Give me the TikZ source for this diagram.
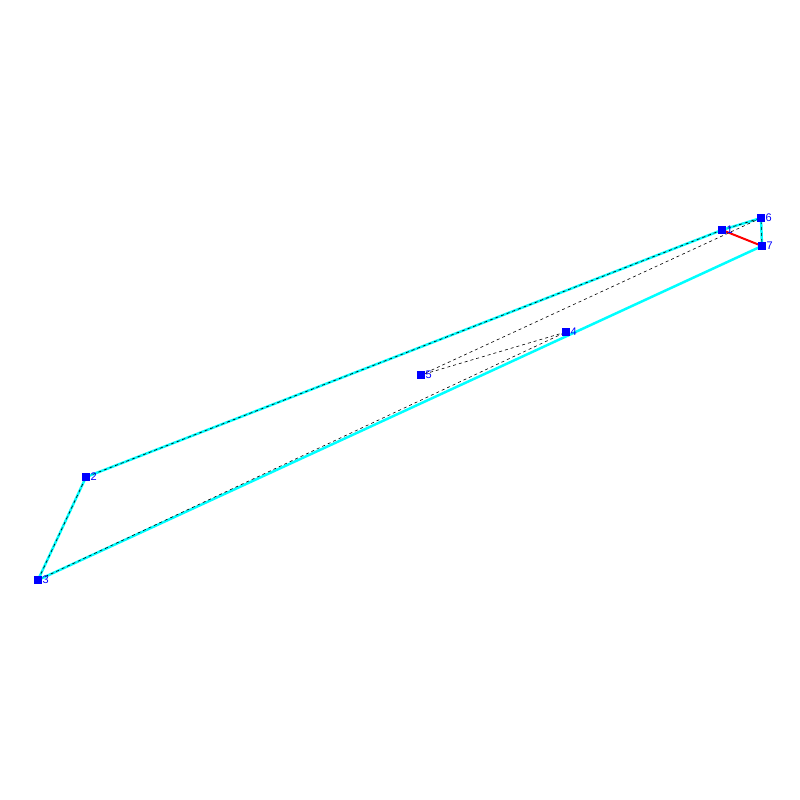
\documentclass[tikz,border=0pt]{standalone}
\usepackage{fontspec}
\setmainfont{Liberation Sans}
\definecolor{pcyan}{RGB}{0,255,255}
\definecolor{pblue}{RGB}{0,0,255}
\definecolor{pred}{RGB}{255,0,0}
\begin{document}
\begin{tikzpicture}[x=1pt,y=-1pt,
  pt/.style={fill=pblue,draw=none,minimum size=7.5pt,inner sep=0pt,outer sep=0pt},
  lbl/.style={text=pblue,font=\fontsize{11}{11}\selectfont,inner sep=0pt,anchor=west},
  edge/.style={pcyan,line width=2.5pt},
  dsh/.style={black,line width=0.6pt,dash pattern=on 3pt off 3pt},
  red edge/.style={pred,line width=2pt}]
\useasboundingbox (0,0) rectangle (800,800);
\coordinate (p1) at (722,230);
\coordinate (p2) at (86,477);
\coordinate (p3) at (38,580);
\coordinate (p4) at (566,332);
\coordinate (p5) at (421,375);
\coordinate (p6) at (761,218);
\coordinate (p7) at (762,246);
\draw[edge] (p2) -- (p1) -- (p6) -- (p7) -- (p3) -- cycle;
\draw[dsh] (p1) -- (p2) -- (p3) -- (p4) -- (p5) -- (p6) -- (p7);
\draw[dsh] (p1) -- (p6);
\draw[red edge] (p1) -- (p7);
\foreach \i in {1,...,7}{
  \node[pt] (n\i) at (p\i) {};
  \node[lbl] (l\i) at ([xshift=4.5pt,yshift=0.5pt]p\i) {\i};
}
\end{tikzpicture}
\end{document}
